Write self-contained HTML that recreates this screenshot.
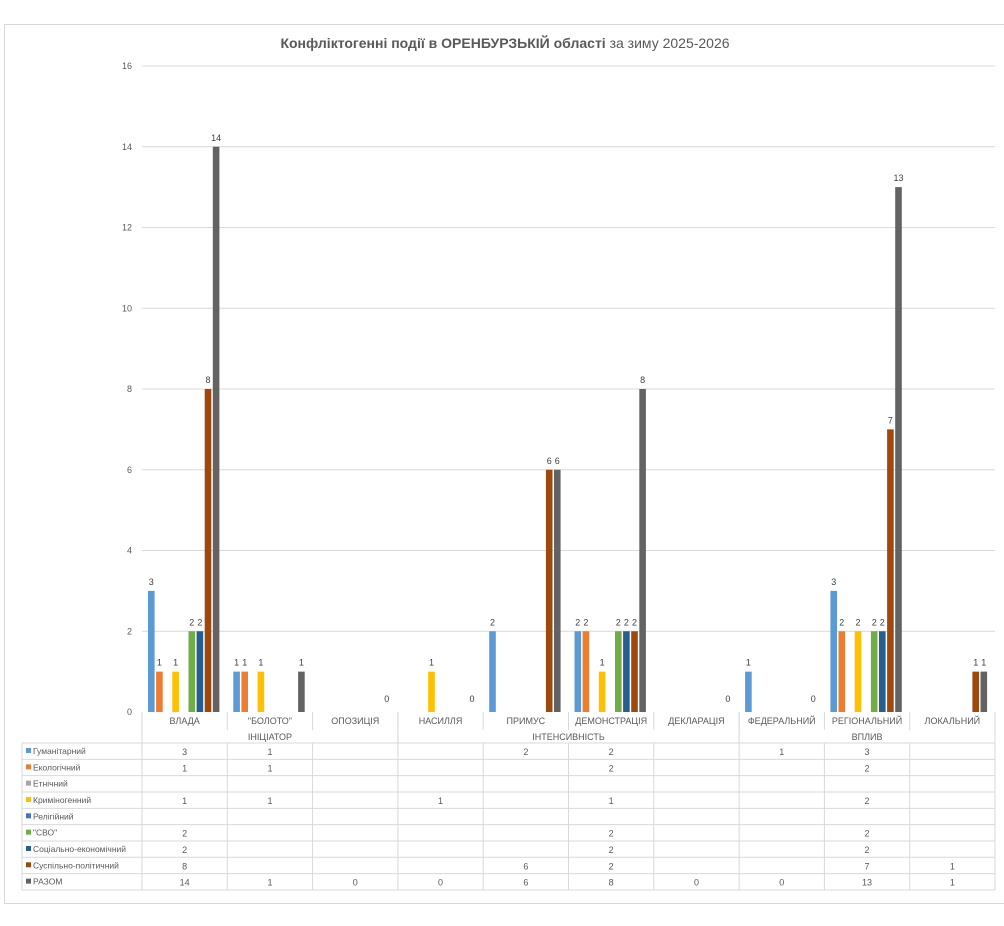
<!DOCTYPE html>
<html><head><meta charset="utf-8">
<style>
body{margin:0;background:#fff;width:1004px;height:921px;overflow:hidden;font-family:"Liberation Sans","DejaVu Sans",sans-serif;}
svg text{font-family:"Liberation Sans","DejaVu Sans",sans-serif;}
</style></head>
<body>
<svg id="chart" width="1004" height="921" xmlns="http://www.w3.org/2000/svg">
<rect x="4.5" y="24.5" width="1010" height="879" fill="#fff" stroke="#d9d9d9"/>
<text x="505" y="48" text-anchor="middle" font-size="14" fill="#595959"><tspan font-weight="bold">Конфліктогенні події в ОРЕНБУРЗЬКІЙ області</tspan> за зиму 2025-2026</text>
<g id="grid"></g><g id="bars"></g><g id="labels"></g><g id="table"></g>
</svg>
<script>
const categories=["ВЛАДА","\"БОЛОТО\"","ОПОЗИЦІЯ","НАСИЛЛЯ","ПРИМУС","ДЕМОНСТРАЦІЯ","ДЕКЛАРАЦІЯ","ФЕДЕРАЛЬНИЙ","РЕГІОНАЛЬНИЙ","ЛОКАЛЬНИЙ"];
const groups=["ІНІЦІАТОР","ІНТЕНСИВНІСТЬ","ВПЛИВ"];
const groupSpans=[3,4,3];
const seriesNames=["Гуманітарний","Екологічний","Етнічний","Криміногенний","Релігійний","\"СВО\"","Соціально-економічний","Суспільно-політичний","РАЗОМ"];
const seriesColors=["#5B9BD5","#ED7D31","#A5A5A5","#FFC000","#4472C4","#70AD47","#255E91","#9E480E","#636363"];
const sHum=[3,1,null,null,2,2,null,1,3,null];
const sEco=[1,1,null,null,null,2,null,null,2,null];
const sEth=[null,null,null,null,null,null,null,null,null,null];
const sCrim=[1,1,null,1,null,1,null,null,2,null];
const sRel=[null,null,null,null,null,null,null,null,null,null];
const sSvo=[2,null,null,null,null,2,null,null,2,null];
const sSoc=[2,null,null,null,null,2,null,null,2,null];
const sPol=[8,null,null,null,6,2,null,null,7,1];
const sTotal=[14,1,0,0,6,8,0,0,13,1];
const yTicks=[0,2,4,6,8,10,12,14,16];
const series=[sHum,sEco,sEth,sCrim,sRel,sSvo,sSoc,sPol,sTotal];

const NS="http://www.w3.org/2000/svg";
const X0=142,X1=995,Y0=712,Y1=66,YMAX=16;
const cw=(X1-X0)/categories.length;
const y=v=>Y0-(v/YMAX)*(Y0-Y1);
const cx=i=>X0+i*cw;
function mk(tag,attrs,parent,txt){const e=document.createElementNS(NS,tag);for(const k in attrs)e.setAttribute(k,attrs[k]);if(txt!==undefined)e.textContent=txt;parent.appendChild(e);return e;}
const grid=document.getElementById('grid'),bars=document.getElementById('bars'),labels=document.getElementById('labels'),table=document.getElementById('table');
yTicks.forEach(t=>{
  if(t>0){const l=mk('line',{x1:X0,x2:X1,y1:y(t),y2:y(t),stroke:'#d9d9d9'},grid);
  
  }
  const tx=mk('text',{x:132,y:y(t)+3,'text-anchor':'end','font-size':9,fill:'#595959'},grid,String(t));
  
  
});
const bw=6.6,step=8.1,off=6;
series.forEach((s,si)=>{
  s.forEach((v,ci)=>{
    if(v===null)return;
    const bx=cx(ci)+off+si*step;
    if(v>0){const r=mk('rect',{x:bx,y:y(v),width:bw,height:Y0-y(v),fill:seriesColors[si]},bars);
    
    }
    const t=mk('text',{x:bx+bw/2,y:y(v)-(v>0?6:10),'text-anchor':'middle','font-size':9,fill:'#404040'},labels,String(v));
    
    
  });
});
// table
const TL=22,R0=743,RH=16.33,GY=730;
const lc='#d9d9d9';
function ln(x1,y1,x2,y2){const l=mk('line',{x1:x1,y1:y1,x2:x2,y2:y2,stroke:lc},table);}
const TB=R0+RH*seriesNames.length;
ln(X0,Y0,X0,TB);ln(X1,Y0,X1,TB);
for(let i=0;i<=seriesNames.length;i++)ln(TL,R0+i*RH,X1,R0+i*RH);
ln(TL,R0,TL,TB);
for(let i=1;i<categories.length;i++){ln(cx(i),Y0,cx(i),GY);ln(cx(i),R0,cx(i),TB);}
let gs=0;
groups.forEach((g,gi)=>{
  const a=cx(gs),b=cx(gs+groupSpans[gi]);
  ln(a,Y0,a,R0);ln(b,Y0,b,R0);
  const t=mk('text',{x:(a+b)/2,y:740,'text-anchor':'middle','font-size':9,fill:'#595959'},table,g);
  
  
  gs+=groupSpans[gi];
});
categories.forEach((c,i)=>{
  const t=mk('text',{x:cx(i)+cw/2,y:724,'text-anchor':'middle','font-size':9,fill:'#595959'},table,c);
  
  
});
series.forEach((s,si)=>{
  const ry=R0+si*RH;
  const sq=mk('rect',{x:26,y:ry+5,width:5,height:5,fill:seriesColors[si]},table);
  
  
  const nt=mk('text',{x:33,y:ry+11,'font-size':8.5,fill:'#595959'},table,seriesNames[si]);
  
  
  s.forEach((v,ci)=>{
    if(v===null)return;
    const t=mk('text',{x:cx(ci)+cw/2,y:ry+12,'text-anchor':'middle','font-size':9,fill:'#595959'},table,String(v));
    
    
  });
});
</script>
</body></html>
